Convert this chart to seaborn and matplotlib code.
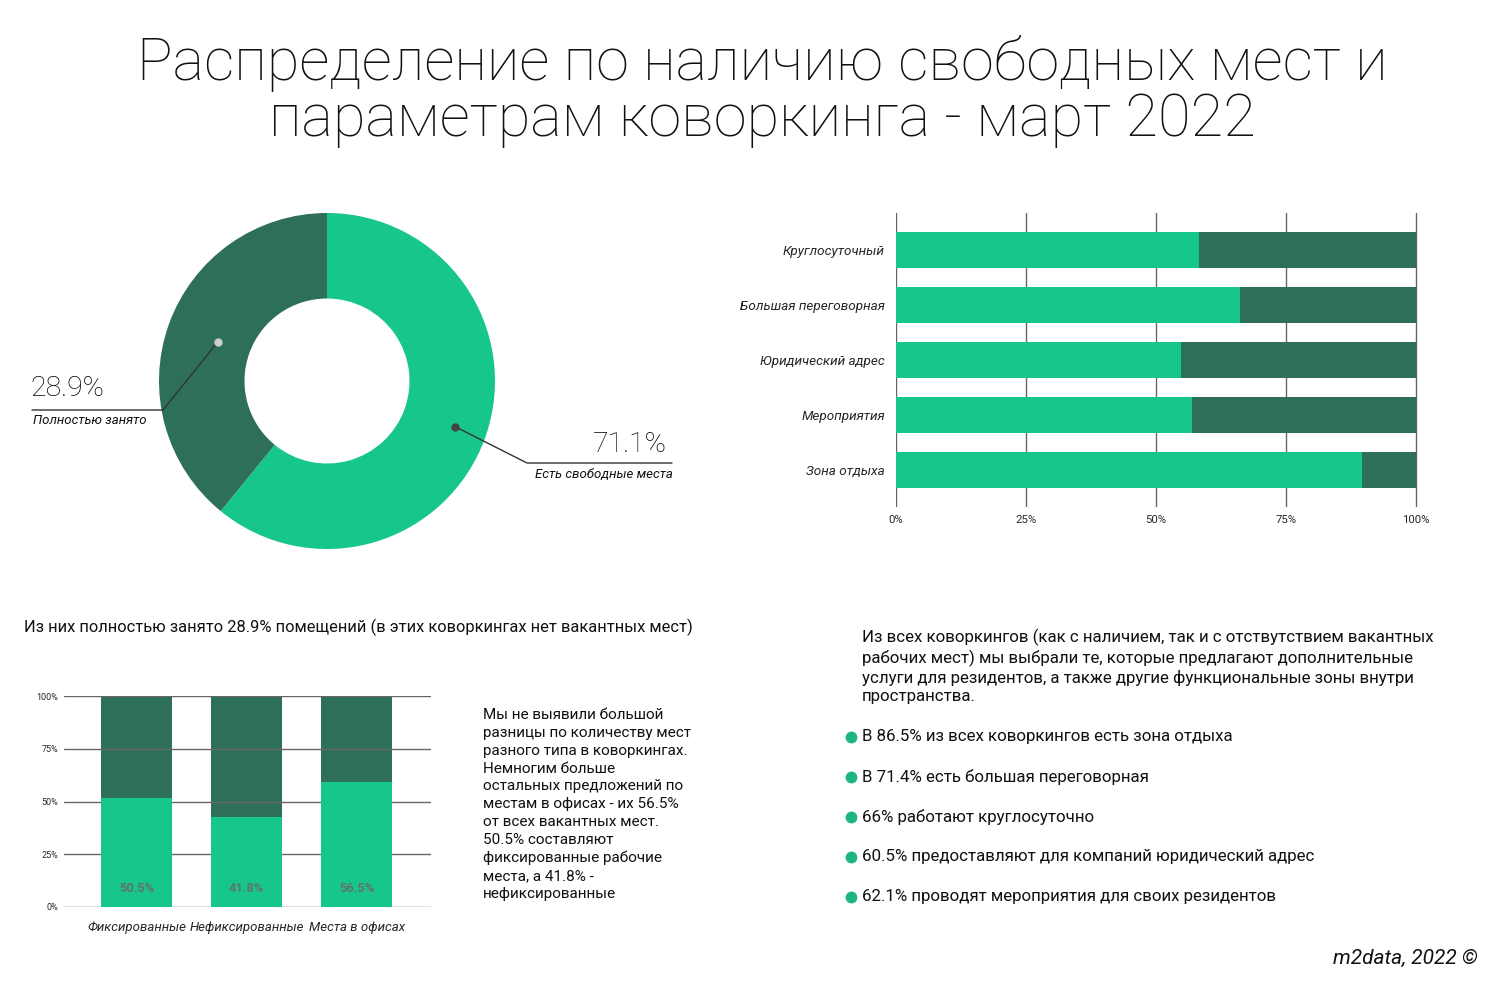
import numpy as np
import pandas as pd
import matplotlib
matplotlib.use("Agg")
import matplotlib.pyplot as plt
import seaborn as sns
from matplotlib.lines import Line2D

# ---------------- data ----------------
title_text = "Распределение по наличию свободных мест и\nпараметрам коворкинга - март 2022"

donut_labels = ["Есть свободные места", "Полностью занято"]
donut_label_values = ["71.1%", "28.9%"]
donut_shares = [60.9, 39.1]          # slice sizes as drawn

hbar_categories = ["Круглосуточный", "Большая переговорная", "Юридический адрес",
                   "Мероприятия", "Зона отдыха"]
hbar_yes = [58.2, 66.2, 54.9, 57.0, 89.7]
hbar_ticks = [0, 25, 50, 75, 100]
hbar_ticklabels = ["0%", "25%", "50%", "75%", "100%"]

vbar_categories = ["Фиксированные", "Нефиксированные", "Места в офисах"]
vbar_values = [51.6, 42.6, 59.1]
vbar_labels = ["50.5%", "41.8%", "56.5%"]
vbar_ticks = [0, 25, 50, 75, 100]
vbar_ticklabels = ["0%", "25%", "50%", "75%", "100%"]

left_note = "Из них полностью занято 28.9% помещений (в этих коворкингах нет вакантных мест)"
mid_text = ["Мы не выявили большой", "разницы по количеству мест", "разного типа в коворкингах.",
            "Немногим больше", "остальных предложений по", "местам в офисах - их 56.5%",
            "от всех вакантных мест.", "50.5% составляют", "фиксированные рабочие",
            "места, а 41.8% -", "нефиксированные"]
right_intro = ["Из всех коворкингов (как с наличием, так и с отствутствием вакантных",
               "рабочих мест) мы выбрали те, которые предлагают дополнительные",
               "услуги для резидентов, а также другие функциональные зоны внутри",
               "пространства."]
bullets = ["В 86.5% из всех коворкингов есть зона отдыха",
           "В 71.4% есть большая переговорная",
           "66% работают круглосуточно",
           "60.5% предоставляют для компаний юридический адрес",
           "62.1% проводят мероприятия для своих резидентов"]
footer = "m2data, 2022 ©"

GREEN = "#17c68b"
DARK = "#2e6f58"
GRID = "#666666"

sns.set_theme(style="white")
plt.rcParams['font.family'] = ['Roboto', 'DejaVu Sans']

W, H = 1500, 986
fig = plt.figure(figsize=(W / 100, H / 100), dpi=100)
fig.patch.set_facecolor("white")


def fx(px):
    return px / W


def fy(py):
    return 1 - py / H


def axes_px(x0, y0, x1, y1):
    return fig.add_axes([fx(x0), fy(y1), fx(x1) - fx(x0), (y1 - y0) / H])


# ---------------- title ----------------
fig.text(0.508, fy(63), title_text.split("\n")[0], ha="center", va="center", fontsize=42.8,
         fontweight="light", color="#111111")
fig.text(0.508, fy(120), title_text.split("\n")[1], ha="center", va="center", fontsize=42.8,
         fontweight="light", color="#111111")

# ---------------- donut ----------------
axd = axes_px(127, 181, 527, 581)
wedges, _ = axd.pie(donut_shares, colors=[GREEN, DARK], startangle=90, counterclock=False,
                    radius=0.84, wedgeprops=dict(width=0.4275, linewidth=0))
axd.set_xlim(-1, 1)
axd.set_ylim(-1, 1)
axd.set_aspect("equal")
axd.axis("off")


def wedge_mid(w, r):
    a = np.deg2rad((w.theta1 + w.theta2) / 2)
    return r * np.cos(a), r * np.sin(a)


to_fig = axd.transData + fig.transFigure.inverted()
# green (free seats) -> right
gx, gy = wedge_mid(wedges[0], 0.68)
p0 = to_fig.transform((gx, gy))
fig.add_artist(Line2D([p0[0], fx(527), fx(672)], [p0[1], fy(463), fy(463)],
                      transform=fig.transFigure, color="#333333", lw=1))
fig.add_artist(Line2D([p0[0]], [p0[1]], transform=fig.transFigure, marker="o",
                      markersize=5, color="#444444", lw=0))
fig.text(fx(667), fy(445), donut_label_values[0], ha="right", va="center", fontsize=20.5,
         fontweight="light", color="#000000")
fig.text(fx(673), fy(474), donut_labels[0], ha="right", va="center", fontsize=9.5,
         style="italic", color="#111111")

# dark (occupied) -> left
dx_, dy_ = wedge_mid(wedges[1], 0.58)
p1 = to_fig.transform((dx_, dy_))
fig.add_artist(Line2D([p1[0], fx(163), fx(32)], [p1[1], fy(410), fy(410)],
                      transform=fig.transFigure, color="#333333", lw=1))
fig.add_artist(Line2D([p1[0]], [p1[1]], transform=fig.transFigure, marker="o",
                      markersize=5, color="#cfcfcf", lw=0))
fig.text(fx(30), fy(388), donut_label_values[1], ha="left", va="center", fontsize=20.5,
         fontweight="light", color="#000000")
fig.text(fx(33), fy(420), donut_labels[1], ha="left", va="center", fontsize=9.5,
         style="italic", color="#111111")

# ---------------- horizontal stacked bars ----------------
axh = axes_px(896, 213, 1418, 507)
dfh = pd.DataFrame({"cat": hbar_categories, "yes": hbar_yes, "total": [100] * len(hbar_yes)})
sns.barplot(data=dfh, y="cat", x="total", orient="h", color=DARK, width=0.64,
            saturation=1, ax=axh, zorder=2)
sns.barplot(data=dfh, y="cat", x="yes", orient="h", color=GREEN, width=0.64,
            saturation=1, ax=axh, zorder=3)
for p in axh.patches:
    p.set_linewidth(0)
axh.set_xlim(0, 100.4)
axh.set_ylim(4.67, -0.67)
axh.set_xticks(hbar_ticks)
axh.set_xticklabels(hbar_ticklabels, fontsize=8.2)
axh.set_xlabel("")
axh.set_ylabel("")
axh.tick_params(axis="y", labelsize=9.7, length=0, pad=8)
for t in axh.get_yticklabels():
    t.set_style("italic")
axh.tick_params(axis="x", length=0, pad=6)
axh.grid(axis="x", color=GRID, lw=1, zorder=1)
axh.set_axisbelow(True)
for s in axh.spines.values():
    s.set_visible(False)

# ---------------- bottom-left note ----------------
fig.text(fx(24), fy(627), left_note, ha="left", va="center", fontsize=11.85, color="#111111")

# ---------------- vertical stacked bars ----------------
axv = axes_px(64, 696, 431, 907)
dfv = pd.DataFrame({"cat": vbar_categories, "yes": vbar_values, "total": [100] * 3})
sns.barplot(data=dfv, x="cat", y="total", color=DARK, width=0.645, saturation=1,
            ax=axv, zorder=2)
sns.barplot(data=dfv, x="cat", y="yes", color=GREEN, width=0.645, saturation=1,
            ax=axv, zorder=3)
for p in axv.patches:
    p.set_linewidth(0)
axv.set_xlim(-0.66, 2.675)
axv.set_ylim(0, 100)
axv.set_yticks(vbar_ticks)
axv.set_yticklabels(vbar_ticklabels, fontsize=6.5)
axv.set_xlabel("")
axv.set_ylabel("")
axv.tick_params(axis="y", length=0, pad=4)
axv.tick_params(axis="x", length=0, pad=10, labelsize=9.5)
for t in axv.get_xticklabels():
    t.set_style("italic")
axv.grid(axis="y", color=GRID, lw=1, zorder=1)
axv.set_axisbelow(False)
for s in axv.spines.values():
    s.set_visible(False)
for i, lab in enumerate(vbar_labels):
    axv.text(i, 9.0, lab, ha="center", va="center", fontsize=9.3, fontweight="bold",
             color="#5f756a", zorder=5)

# ---------------- middle text ----------------
fig.text(fx(483), fy(708), "\n".join(mid_text), ha="left", va="top", fontsize=11,
         color="#111111", linespacing=1.35)

# ---------------- right text ----------------
fig.text(fx(862), fy(629), "\n".join(right_intro), ha="left", va="top", fontsize=12.2,
         color="#111111", linespacing=1.24)
for i, b in enumerate(bullets):
    y = 737 + 40 * i
    fig.add_artist(Line2D([fx(851)], [fy(y)], transform=fig.transFigure, marker="o",
                          markersize=7.5, color="#1fb582", lw=0))
    fig.text(fx(862), fy(y), b, ha="left", va="center", fontsize=12.2, color="#111111")

# ---------------- footer ----------------
fig.text(fx(1478), fy(958), footer, ha="right", va="center", fontsize=15,
         style="italic", color="#111111")

fig.savefig("out.png", dpi=100, facecolor="white")
